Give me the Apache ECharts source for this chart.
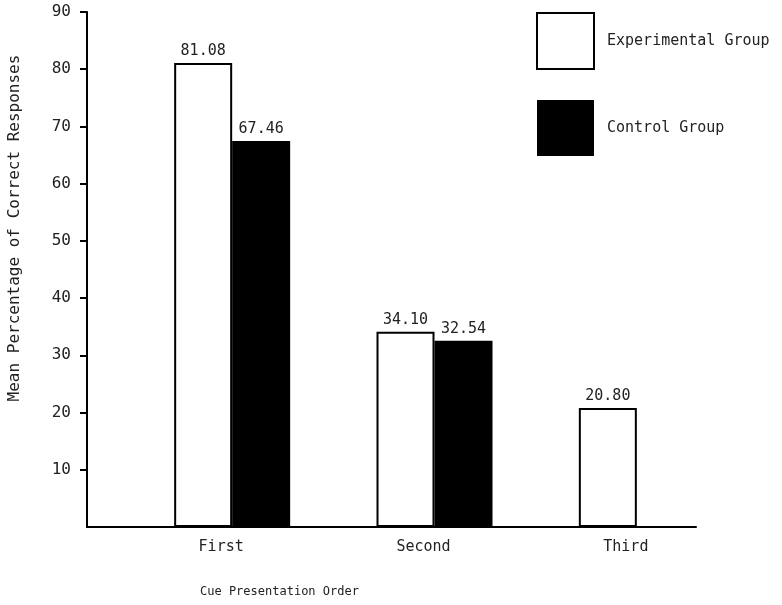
<!DOCTYPE html>
<html>
<head>
<meta charset="utf-8">
<script src="https://cdn.jsdelivr.net/npm/echarts@6/dist/echarts.min.js"></script>
<style>html,body{margin:0;padding:0;background:#fff;}#c{width:782px;height:605px;}</style>
</head>
<body>
<div id="c"></div>
<script>
const categories = ['First', 'Second', 'Third'];
const experimental = [81.08, 34.10, 20.80];
const control = [67.46, 32.54, null];
const yTicks = [10, 20, 30, 40, 50, 60, 70, 80, 90];
const seriesNames = ['Experimental Group', 'Control Group'];
const yTitle = 'Mean Percentage of Correct Responses';
const xTitle = 'Cue Presentation Order';

const FONT = 'DejaVu Sans Mono';
const TXT = '#222';
const chart = echarts.init(document.getElementById('c'), null, {renderer: 'canvas'});
const labelCfg = {
  show: true, position: 'top', distance: 4,
  fontFamily: FONT, fontSize: 15, color: TXT,
  formatter: p => p.value == null ? '' : Number(p.value).toFixed(2)
};
chart.setOption({
  animation: false,
  backgroundColor: '#fff',
  grid: [
    {left: 87, top: 12, width: 609, height: 515},
    {left: 131, top: 12, width: 607, height: 515}
  ],
  xAxis: [
    {type: 'value', gridIndex: 0, min: 0, max: 1,
     axisLine: {show: true, lineStyle: {color: '#000', width: 2}},
     axisTick: {show: false}, axisLabel: {show: false}, splitLine: {show: false}},
    {type: 'category', gridIndex: 1, data: categories,
     axisLine: {show: false}, axisTick: {show: false}, splitLine: {show: false},
     axisLabel: {fontFamily: FONT, fontSize: 15, color: TXT, margin: 13, padding: [0, 22, 0, 0]}}
  ],
  yAxis: [
    {type: 'value', gridIndex: 0, min: 0, max: 90, interval: 10,
     axisLine: {show: true, lineStyle: {color: '#000', width: 2}},
     axisTick: {show: true, length: 7, customValues: yTicks, lineStyle: {color: '#000', width: 2}},
     axisLabel: {fontFamily: FONT, fontSize: 16, color: TXT, margin: 16, customValues: yTicks},
     splitLine: {show: false}},
    {type: 'value', gridIndex: 1, min: 0, max: 90, show: false,
     splitLine: {show: false}}
  ],
  legend: {
    orient: 'vertical', left: 536, top: 12, padding: 0,
    itemWidth: 57, itemHeight: 56, itemGap: 30,
    icon: 'rect',
    textStyle: {fontFamily: FONT, fontSize: 15, color: TXT, padding: [0, 0, 14, 8]},
    data: [
      {name: seriesNames[0], itemStyle: {color: '#fff', borderColor: '#000', borderWidth: 2}},
      {name: seriesNames[1], itemStyle: {color: '#000', borderColor: '#000', borderWidth: 0}}
    ]
  },
  graphic: [
    {type: 'text', x: 15, y: 228, rotation: Math.PI / 2,
     style: {text: yTitle, font: '16px "DejaVu Sans Mono"', fill: TXT, align: 'center', verticalAlign: 'middle'}},
    {type: 'text', left: 200, top: 586,
     style: {text: xTitle, font: '12px "DejaVu Sans Mono"', fill: TXT}}
  ],
  series: [
    {name: seriesNames[0], type: 'bar', xAxisIndex: 1, yAxisIndex: 1,
     data: experimental, barWidth: 58, barGap: '0%',
     itemStyle: {color: '#fff', borderColor: '#000', borderWidth: 2},
     label: labelCfg},
    {name: seriesNames[1], type: 'bar', xAxisIndex: 1, yAxisIndex: 1,
     data: control, barWidth: 58, barGap: '0%',
     itemStyle: {color: '#000'},
     label: labelCfg}
  ]
});
</script>
</body>
</html>
